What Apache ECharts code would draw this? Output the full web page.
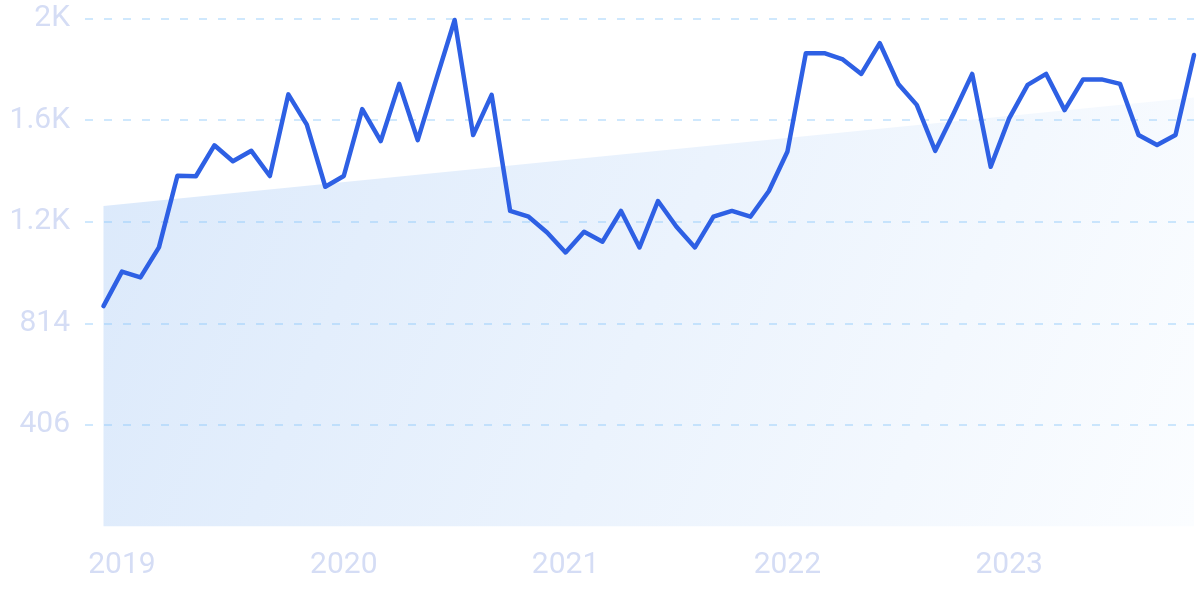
<!DOCTYPE html>
<html>
<head>
<meta charset="utf-8">
<script src="https://cdn.jsdelivr.net/npm/echarts@6/dist/echarts.min.js"></script>
<style>
html,body{margin:0;padding:0;background:#fff;}
#chart{width:1200px;height:599px;}
</style>
</head>
<body>
<div id="chart"></div>
<script>
// Monthly categories: Nov 2018 (empty lead slot) .. Nov 2023
const months = [
  '2018-11','2018-12',
  '2019-01','2019-02','2019-03','2019-04','2019-05','2019-06','2019-07','2019-08','2019-09','2019-10','2019-11','2019-12',
  '2020-01','2020-02','2020-03','2020-04','2020-05','2020-06','2020-07','2020-08','2020-09','2020-10','2020-11','2020-12',
  '2021-01','2021-02','2021-03','2021-04','2021-05','2021-06','2021-07','2021-08','2021-09','2021-10','2021-11','2021-12',
  '2022-01','2022-02','2022-03','2022-04','2022-05','2022-06','2022-07','2022-08','2022-09','2022-10','2022-11','2022-12',
  '2023-01','2023-02','2023-03','2023-04','2023-05','2023-06','2023-07','2023-08','2023-09','2023-10','2023-11'
];
// Search volume per month (null = no data)
const volume = [
  null, 883,
  1021, 998, 1118, 1405, 1403, 1527, 1463, 1505, 1404, 1731, 1610, 1361,
  1404, 1672, 1544, 1773, 1548, 1790, 2029, 1568, 1729, 1264, 1241, 1178,
  1098, 1181, 1141, 1264, 1118, 1304, 1201, 1118, 1241, 1264, 1241, 1344,
  1501, 1896, 1896, 1871, 1813, 1936, 1773, 1689, 1505, 1655, 1813, 1441,
  1635, 1769, 1813, 1668, 1791, 1791, 1773, 1568, 1528, 1568, 1889
];
// Trend line endpoints: [category index, value]
const trendStart = [1, 1284];
const trendEnd = [60, 1719];
// Y axis ticks
const yMax = 2035;
const yInterval = 407;
const yTickLabels = ['', '406', '814', '1.2K', '1.6K', '2K'];

const chart = echarts.init(document.getElementById('chart'), null, {renderer: 'canvas'});
const labelColor = '#d5ddf5';
chart.setOption({
  animation: false,
  grid: {left: 85, right: 6, top: 18.5, bottom: 72.5},
  xAxis: {
    type: 'category',
    data: months,
    boundaryGap: false,
    axisLine: {show: false},
    axisTick: {show: false},
    splitLine: {show: false},
    axisLabel: {
      interval: 0,
      margin: 24,
      color: labelColor,
      fontFamily: 'Roboto',
      fontSize: 30,
      formatter: function (v) { return v.slice(5) === '01' ? v.slice(0, 4) : ''; }
    }
  },
  yAxis: {
    type: 'value',
    min: 0,
    max: yMax,
    interval: yInterval,
    z: 2,
    axisLine: {show: false},
    axisTick: {show: false},
    axisLabel: {
      margin: 15,
      color: labelColor,
      fontFamily: 'Roboto',
      fontSize: 30,
      formatter: function (v) { return yTickLabels[Math.round(v / yInterval)] || ''; }
    },
    splitLine: {
      show: true,
      showMinLine: false,
      lineStyle: {color: 'rgba(140,200,250,0.42)', width: 2, type: [8, 11]}
    }
  },
  series: [
    {
      type: 'line',
      data: [trendStart, trendEnd],
      symbol: 'none',
      lineStyle: {width: 0},
      areaStyle: {
        opacity: 1,
        color: new echarts.graphic.LinearGradient(0, 0, 1, 1, [
          {offset: 0, color: '#dbe9fb'},
          {offset: 1, color: '#fbfdff'}
        ])
      },
      z: 1,
      silent: true
    },
    {
      type: 'line',
      data: volume,
      symbol: 'none',
      connectNulls: false,
      lineStyle: {color: '#2e60e4', width: 4.5, join: 'round', cap: 'round'},
      z: 3
    }
  ]
});
</script>
</body>
</html>
